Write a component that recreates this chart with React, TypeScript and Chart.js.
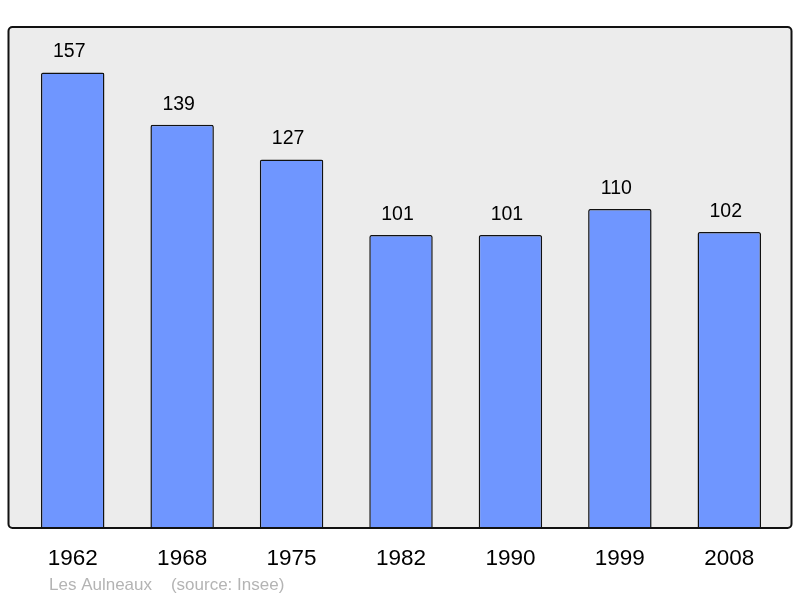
import React, { useEffect, useRef } from 'react';
import { Chart, registerables } from 'chart.js';

Chart.register(...registerables);

const years = ['1962', '1968', '1975', '1982', '1990', '1999', '2008'];
const population = [157, 139, 127, 101, 101, 110, 102];
const footer = 'Les Aulneaux    (source: Insee)';

const FONT = '"Liberation Sans", Arial, sans-serif';

const frame = {
    id: 'frame',
    beforeDraw(chart: Chart) {
        const { ctx, chartArea } = chart;
        const x0 = chartArea.left - 9.5;
        const x1 = chartArea.right + 7.5;
        const y0 = chartArea.top;
        const y1 = chartArea.bottom;
        ctx.save();
        ctx.beginPath();
        ctx.roundRect(x0, y0, x1 - x0, y1 - y0, 4);
        ctx.fillStyle = '#ececec';
        ctx.fill();
        ctx.restore();
    },
    afterDatasetsDraw(chart: Chart) {
        const { ctx, chartArea } = chart;
        const x0 = chartArea.left - 9.5;
        const x1 = chartArea.right + 7.5;
        const y0 = chartArea.top;
        const y1 = chartArea.bottom;
        ctx.save();
        ctx.beginPath();
        ctx.roundRect(x0, y0, x1 - x0, y1 - y0, 4);
        ctx.lineWidth = 2;
        ctx.strokeStyle = '#111';
        ctx.stroke();

        // value labels over the bars
        const meta = chart.getDatasetMeta(0);
        ctx.fillStyle = '#000';
        ctx.font = `19.5px ${FONT}`;
        ctx.textAlign = 'center';
        ctx.textBaseline = 'middle';
        meta.data.forEach((bar, i) => {
            ctx.fillText(String(population[i]), bar.x - 3.5, bar.y - 20.5);
        });

        // footer
        ctx.fillStyle = '#b4b4b4';
        ctx.font = `17px ${FONT}`;
        ctx.textAlign = 'left';
        ctx.fillText(footer, 49, 585);
        ctx.restore();
    },
};

const PopulationChart: React.FC = () => {
    const chartRef = useRef<HTMLCanvasElement>(null);
    const chartInstanceRef = useRef<Chart | null>(null);

    useEffect(() => {
        document.body.style.margin = '0';
        const ctx = chartRef.current?.getContext('2d');
        if (!ctx) return;

        if (chartInstanceRef.current) {
            chartInstanceRef.current.destroy();
        }

        chartInstanceRef.current = new Chart(ctx, {
            type: 'bar',
            data: {
                labels: years,
                datasets: [
                    {
                        data: population,
                        backgroundColor: '#6f96ff',
                        borderColor: '#111',
                        borderWidth: 1.5,
                        borderRadius: 2,
                        borderSkipped: 'bottom',
                        barPercentage: 0.58,
                        categoryPercentage: 1,
                    },
                ],
            },
            options: {
                animation: false,
                responsive: false,
                devicePixelRatio: 1,
                layout: { padding: { left: 18, right: 16, top: 27, bottom: 0 } },
                plugins: {
                    legend: { display: false },
                    tooltip: { enabled: false },
                },
                scales: {
                    x: {
                        grid: { display: false, drawTicks: false },
                        border: { display: false },
                        ticks: {
                            color: '#000',
                            font: { size: 22.5, family: FONT },
                            padding: 17,
                            maxRotation: 0,
                        },
                        afterFit: (scale) => {
                            scale.height = 70;
                        },
                    },
                    y: {
                        display: false,
                        min: 0,
                        max: Math.max(...population) * 1.1,
                    },
                },
            },
            plugins: [frame],
        });

        return () => {
            if (chartInstanceRef.current) {
                chartInstanceRef.current.destroy();
                chartInstanceRef.current = null;
            }
        };
    }, []);

    return <canvas ref={chartRef} width={800} height={598} style={{ display: 'block', width: '800px', height: '598px' }} />;
};

export default function App() {
    return <PopulationChart />;
}
